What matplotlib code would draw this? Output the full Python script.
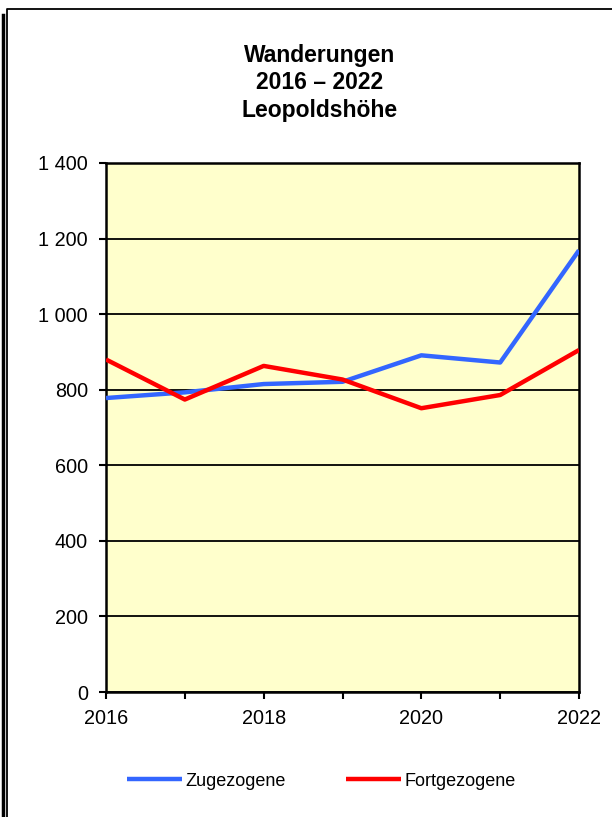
import matplotlib.pyplot as plt
from matplotlib.lines import Line2D
from matplotlib.ticker import MultipleLocator, FuncFormatter

YEARS = [2016, 2017, 2018, 2019, 2020, 2021, 2022]
ZUGEZOGENE = [778, 793, 815, 821, 891, 872, 1169]
FORTGEZOGENE = [880, 774, 863, 827, 751, 786, 905]
TITLE = "Wanderungen\n2016 \u2013 2022\nLeopoldshöhe"

plt.rcParams['font.family'] = ['Liberation Sans', 'DejaVu Sans']

fig = plt.figure(figsize=(6.12, 8.17), dpi=100)
ax = fig.add_axes([106 / 612, 1 - 692 / 817, 473 / 612, 529 / 817])
ax.set_facecolor('#FFFFCC')

line1, = ax.plot(YEARS, ZUGEZOGENE, color='#3366FF', lw=3.2, solid_capstyle='butt', zorder=3)
line2, = ax.plot(YEARS, FORTGEZOGENE, color='#FF0000', lw=3.2, solid_capstyle='butt', zorder=3)

ax.set_xlim(2016, 2022)
ax.set_ylim(0, 1400)
ax.yaxis.set_major_locator(MultipleLocator(200))
ax.xaxis.set_major_locator(MultipleLocator(2))
ax.xaxis.set_minor_locator(MultipleLocator(1))
ax.yaxis.set_major_formatter(FuncFormatter(lambda v, p: f"{int(v):,}".replace(",", " ")))
ax.grid(axis='y', color='black', lw=1.3, zorder=1)
for s in ax.spines.values():
    s.set_linewidth(1.8)
ax.tick_params(axis='both', which='both', direction='out', length=5, width=1.5,
               labelsize=14.3, colors='black')
ax.tick_params(axis='x', pad=7)
ax.tick_params(axis='y', pad=8)

fig.text(320 / 612, 1 - 44 / 817, TITLE, ha='center', va='top', fontsize=16.5,
         fontweight='bold', linespacing=1.24)

fig.legend([line1, line2], ["Zugezogene", "Fortgezogene"], loc='center',
           bbox_to_anchor=(0.525, 1 - 781 / 817), ncol=2, frameon=False, fontsize=13,
           handlelength=3.05, handletextpad=0.2, columnspacing=3.3)

# outer frame
fig.add_artist(Line2D([2.5 / 612, 2.5 / 612], [0, 1 - 15 / 817], transform=fig.transFigure,
                      color='black', lw=2.5))
fig.add_artist(Line2D([7 / 612, 7 / 612, 1], [0, 1 - 9 / 817, 1 - 9 / 817],
                      transform=fig.transFigure, color='black', lw=1.3))

fig.savefig("out.png", dpi=100)
